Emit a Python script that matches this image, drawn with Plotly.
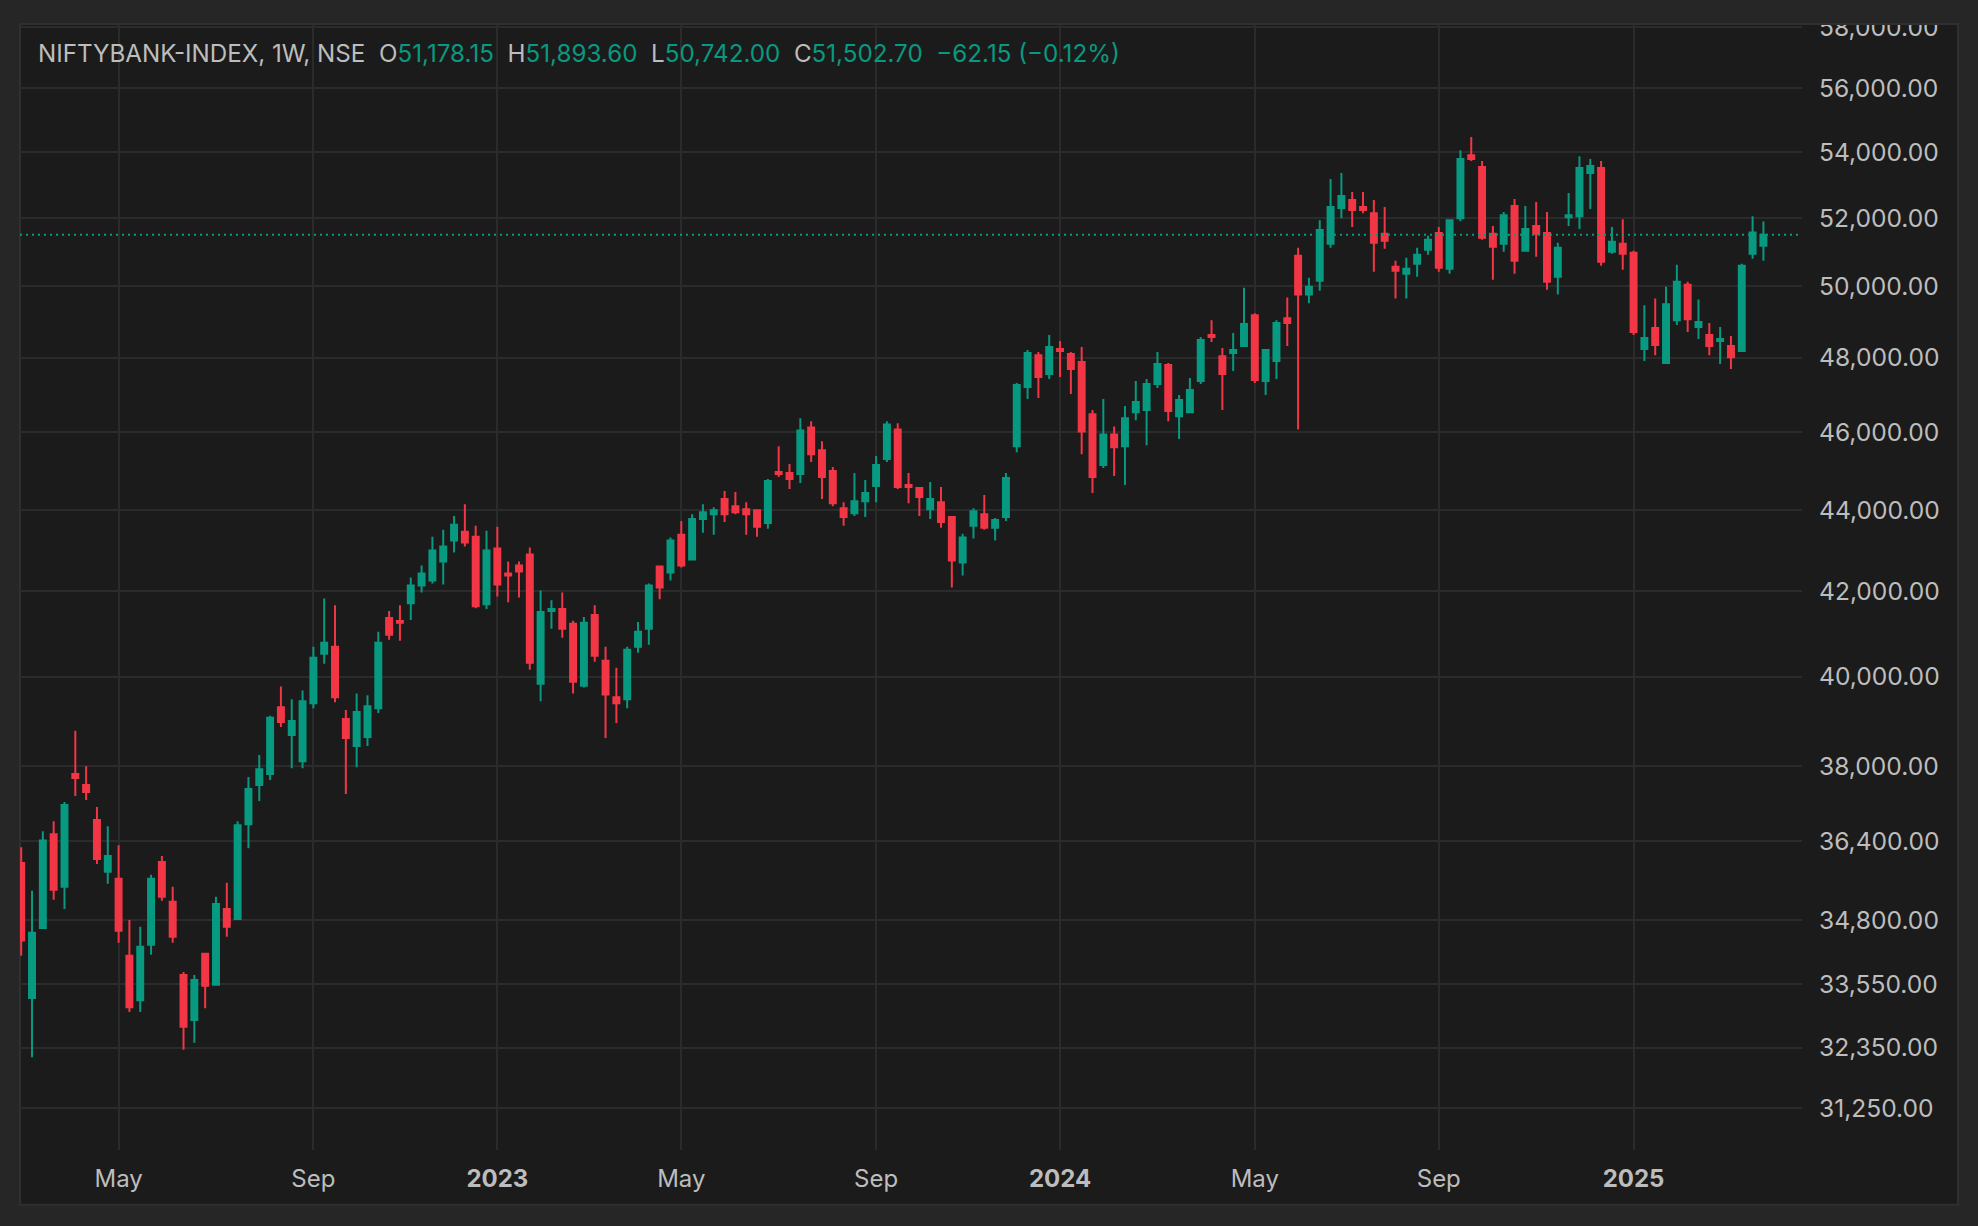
import pandas as pd
import plotly.graph_objects as go

# weekly NIFTY BANK bars, week starting Monday
weeks = pd.date_range("2022-02-28", periods=162, freq="W-MON")

open_ = [
    35955, 33280, 34644, 36548, 35468, 37829, 37595, 36847, 35773, 35630,
    34096, 33237, 34311, 35975, 35164, 33724, 32867, 34135, 33533, 35021,
    34820, 36761, 37595, 37829, 39306, 38686, 38111, 39395, 40527, 40690,
    39041, 38443, 38642, 39284, 41364, 41294, 41713, 42138, 42260, 42724,
    43236, 43455, 43333, 41690, 43041, 42431, 42626, 42894, 39838, 41527,
    41574, 41225, 39793, 41434, 40364, 39528, 39483, 40690, 41109, 42602,
    42455, 43382, 42772, 43772, 43894, 44275, 44094, 44017, 43992, 43675,
    44966, 44940, 44915, 46126, 45530, 44991, 44043, 43919, 44222, 44607,
    45299, 46072, 44632, 44556, 44017, 44197, 43821, 42699, 43602, 43894,
    43553, 43821, 45632, 47207, 48074, 47559, 48241, 48102, 47883, 46477,
    45145, 45940, 45632, 46532, 46586, 47288, 47802, 46424, 46532, 47369,
    48630, 48046, 48130, 48324, 49185, 47369, 47910, 49102, 50889, 49769,
    50165, 51237, 52293, 52535, 52323, 52141, 51527, 50570, 50367, 50657,
    51063, 51556, 50512, 51990, 53899, 53535, 51527, 51237, 52353, 51034,
    51758, 51556, 50280, 52020, 52051, 53354, 53505, 51005, 51237, 50976,
    48241, 48824, 47856, 49046, 50048, 48852, 48630, 48463, 48324, 48185,
    50947, 51178.15,
]
high = [
    36280, 35387, 36612, 36825, 37231, 38778, 38000, 37124, 36718, 36320,
    34800, 34664, 35712, 36096, 35468, 33783, 33724, 34155, 35265, 35549,
    36825, 37765, 38243, 39111, 39771, 39483, 39683, 40690, 41829, 41667,
    39240, 39616, 39572, 41039, 41527, 41667, 42333, 42626, 43333, 43504,
    43846, 44146, 43602, 43480, 43577, 42724, 42724, 43065, 42016, 41783,
    41969, 41295, 41388, 41667, 40690, 40202, 40690, 41271, 42187, 42620,
    43309, 43724, 43894, 44146, 44069, 44481, 44455, 44197, 44017, 44786,
    45632, 45171, 46369, 46288, 45761, 45094, 44197, 44940, 44761, 45376,
    46288, 46234, 44940, 44580, 44710, 44581, 43830, 43406, 44043, 44377,
    43797, 44940, 47315, 48213, 48157, 48630, 48463, 48157, 48296, 46586,
    46883, 46153, 46694, 47369, 47423, 48157, 47856, 46991, 47450, 48574,
    49046, 48269, 48685, 49963, 49241, 48230, 49046, 49685, 51121, 50251,
    51932, 53172, 53354, 52778, 52778, 52535, 52323, 50744, 50831, 51121,
    51469, 51729, 51961, 54051, 54464, 53717, 51758, 52172, 52566, 52353,
    52475, 52172, 51266, 52747, 53868, 53778, 53717, 51729, 51961, 51034,
    49463, 49657, 49991, 50628, 50135, 49630, 48963, 48852, 48602, 50657,
    52051, 51893.60,
]
low = [
    34096, 32172, 34625, 35205, 35021, 37359, 37274, 35934, 35529, 34350,
    33015, 33015, 34116, 35184, 34350, 32313, 32442, 33089, 33515, 34468,
    34800, 36260, 37252, 37701, 38863, 37957, 37957, 39284, 40295, 39417,
    37403, 37979, 38443, 39173, 40853, 40829, 41318, 41969, 42187, 42163,
    42943, 43089, 41597, 41574, 41876, 41736, 41853, 40155, 39439, 41109,
    40899, 39616, 39749, 40341, 38620, 38952, 39284, 40551, 40737, 41806,
    42260, 42577, 42772, 43431, 43382, 43699, 43894, 43382, 43333, 43528,
    44838, 44530, 44684, 45222, 44274, 44094, 43602, 43846, 43821, 44197,
    45222, 44530, 44171, 43846, 43772, 43553, 42089, 42382, 43284, 43504,
    43236, 43724, 45478, 46883, 46910, 47423, 47477, 47018, 45427, 44427,
    45068, 44863, 44632, 46315, 45658, 47180, 46288, 45820, 46532, 47288,
    48435, 46586, 47640, 48324, 47315, 46991, 47423, 48324, 46072, 49519,
    49880, 51121, 51990, 51729, 52141, 50425, 51092, 49657, 49657, 50280,
    50918, 50425, 50367, 51903, 53717, 51353, 50194, 51005, 50367, 51005,
    50860, 49907, 49769, 51758, 51672, 52263, 50599, 50947, 50483, 48630,
    47910, 48074, 47856, 48907, 48713, 48519, 48074, 47829, 47694, 48185,
    50802, 50742.00,
]
close = [
    34395, 34547, 36422, 35407, 37167, 37744, 37446, 36036, 36096, 34586,
    33108, 34272, 35630, 35265, 34468, 32738, 33627, 33515, 35123, 34664,
    36739, 37509, 37936, 39067, 38974, 38996, 39439, 40434, 40783, 39528,
    38620, 39196, 39329, 40783, 40969, 41248, 42138, 42431, 42992, 43089,
    43626, 43187, 41643, 42992, 42163, 42382, 42480, 40318, 41504, 41574,
    41109, 39882, 41248, 40480, 39594, 39395, 40620, 41039, 42138, 42089,
    43236, 42626, 43772, 43943, 43992, 43894, 43943, 43894, 43577, 44735,
    44915, 44786, 46045, 45427, 44838, 44171, 43821, 44222, 44427, 45145,
    46207, 44581, 44581, 44325, 44274, 43699, 42748, 43309, 43967, 43553,
    43748, 44812, 47261, 48130, 47477, 48296, 48185, 47694, 46018, 44838,
    45940, 45607, 46369, 46802, 47288, 47829, 46559, 46856, 47126, 48491,
    48574, 47559, 48213, 48935, 47396, 48213, 48963, 48963, 49769, 49991,
    51643, 52323, 52657, 52232, 52232, 51266, 51324, 50454, 50512, 50918,
    51353, 50541, 51932, 53778, 53778, 51411, 51150, 52081, 50744, 51672,
    51527, 50135, 51121, 52081, 53505, 53566, 50715, 51295, 50947, 48713,
    48546, 48352, 49491, 50135, 49074, 48991, 48324, 48519, 48019, 50599,
    51565, 51502.70,
]

price_ticks = [31250, 32350, 33550, 34800, 36400, 38000, 40000, 42000,
               44000, 46000, 48000, 50000, 52000, 54000, 56000, 58000]
date_ticks = ["2022-05-02", "2022-09-05", "2023-01-02", "2023-05-01", "2023-09-04",
              "2024-01-01", "2024-05-06", "2024-09-02", "2025-01-06"]
date_labels = ["May", "Sep", "<b>2023</b>", "May", "Sep", "<b>2024</b>",
               "May", "Sep", "<b>2025</b>"]

header = ("NIFTYBANK-INDEX, 1W, NSE", "51,178.15", "51,893.60", "50,742.00",
          "51,502.70", "\u221262.15 (\u22120.12%)")

W, H = 1978, 1226
L, R, T, B = 20, 1802, 20, 1150
GREEN = "#089981"
RED = "#f23645"
TEXT = "#bdbdbd"
PANEL = "#1b1b1b"
OUTER = "#262626"
GRID = "#2b2b2b"
FONT = "Inter, Roboto, sans-serif"


def px(x):
    return (x - L) / (R - L)


def py(y):
    return (B - y) / (B - T)


candles = go.Candlestick(
    x=weeks, open=open_, high=high, low=low, close=close,
    increasing=dict(line=dict(color=GREEN, width=2), fillcolor=GREEN),
    decreasing=dict(line=dict(color=RED, width=2), fillcolor=RED),
    whiskerwidth=0,
    hoverinfo="skip",
)

x_range = [pd.Timestamp("2022-02-27 05:20"), pd.Timestamp("2025-04-24 23:00")]
last_line = go.Scatter(
    x=x_range, y=[close[-1], close[-1]],
    mode="lines", line=dict(color=GREEN, width=2, dash="2px,4px"),
    hoverinfo="skip",
)

fig = go.Figure(data=[last_line, candles])

sp = "\u00a0"
g = lambda s: f"<span style='color:{GREEN}'>{s}</span>"
title = (f"{header[0]}{sp*2}O{g(header[1])}{sp*2}H{g(header[2])}{sp*2}"
         f"L{g(header[3])}{sp*2}C{g(header[4])}{sp*2}{g(header[5])}")

fig.update_layout(
    width=W, height=H,
    margin=dict(l=L, r=W - R, t=T, b=H - B, pad=0),
    paper_bgcolor=OUTER,
    plot_bgcolor=PANEL,
    showlegend=False,
    boxgap=0.45, boxgroupgap=0,
    font=dict(family=FONT, size=24, color=TEXT),
    xaxis=dict(
        type="date", range=x_range, rangeslider=dict(visible=False),
        tickvals=date_ticks, ticktext=date_labels,
        showgrid=True, gridcolor=GRID, gridwidth=2,
        zeroline=False, showline=False, ticks="",
        ticklabelstandoff=12,
        tickfont=dict(family=FONT, size=24, color=TEXT),
    ),
    yaxis=dict(
        type="log", side="right",
        range=[4.48445, 4.76417],
        tickvals=price_ticks,
        ticktext=[f"{v:,.2f}" for v in price_ticks],
        showgrid=True, gridcolor=GRID, gridwidth=2,
        zeroline=False, showline=False, ticks="",
        ticklabelstandoff=16,
        tickfont=dict(family=FONT, size=24.6, color=TEXT),
    ),
    shapes=[
        # dark panel behind plot and price scale
        dict(type="rect", xref="paper", yref="paper", layer="below",
             x0=px(20), x1=px(1958), y0=py(1205), y1=py(20),
             fillcolor=PANEL, line=dict(color="#2f2f2f", width=2)),
        # hide part of top price label that spills over the panel edge
        dict(type="rect", xref="paper", yref="paper", layer="above",
             x0=px(1803), x1=px(1978), y0=py(19), y1=py(0),
             fillcolor=OUTER, line=dict(width=0)),
        dict(type="line", xref="paper", yref="paper", layer="above",
             x0=px(20), x1=px(1958), y0=py(20), y1=py(20),
             line=dict(color="#2f2f2f", width=2)),
    ],
    annotations=[
        dict(text=title, xref="paper", yref="paper", x=px(36), y=py(50),
             xanchor="left", yanchor="middle", showarrow=False,
             font=dict(family=FONT, size=24.2, color=TEXT)),
    ],
)

# drop the default page margin so the figure sits at the window corner
fig.write_html("out.html",
               config={"displayModeBar": False},
               post_script="document.body.style.margin='0';"
                           "document.body.style.background='#262626';")
